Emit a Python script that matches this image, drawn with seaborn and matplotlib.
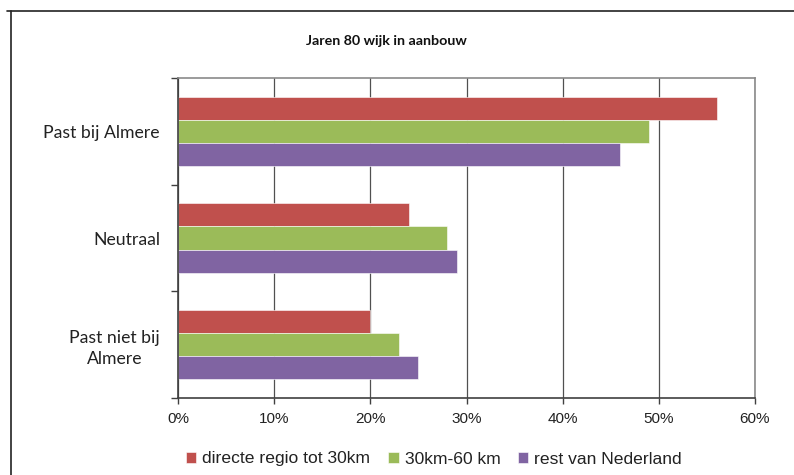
import matplotlib
matplotlib.use("Agg")
import matplotlib.pyplot as plt
from matplotlib.lines import Line2D
from matplotlib.ticker import FixedLocator, PercentFormatter
import pandas as pd
import seaborn as sns

# Survey answers per distance group (percent)
categories = ["Past bij Almere", "Neutraal", "Past niet bij\nAlmere"]
series = ["directe regio tot 30km", "30km-60 km", "rest van Nederland"]
regio_30 = [56, 24, 20]
km_30_60 = [49, 28, 23]
rest_nl = [46, 29, 25]
colors = ["#C0504D", "#9BBB59", "#8064A2"]
title = "Jaren 80 wijk in aanbouw"

rows = []
for s, vals in zip(series, [regio_30, km_30_60, rest_nl]):
    for c, v in zip(categories, vals):
        rows.append({"categorie": c, "reeks": s, "waarde": v})
df = pd.DataFrame(rows)

sns.set_theme(style="white")
plt.rcParams["font.family"] = ["Liberation Sans", "DejaVu Sans"]

fig = plt.figure(figsize=(7.94, 4.75), dpi=100)
ax = fig.add_axes([178 / 794, 1 - 398 / 475, (755 - 178) / 794, (398 - 78) / 475])

sns.barplot(data=df, y="categorie", x="waarde", hue="reeks", order=categories,
            hue_order=series, palette=colors, orient="h", width=0.65,
            saturation=1, edgecolor="white", linewidth=0.4, ax=ax)

ax.set_xlim(0, 60)
ax.set_ylim(2.5, -0.5)
ax.set_xticks(range(0, 61, 10))
ax.xaxis.set_major_formatter(PercentFormatter(decimals=0))
ax.grid(axis="x", color="#505050", linewidth=0.9)
ax.grid(axis="y", visible=False)
ax.set_axisbelow(True)
ax.set_xlabel("")
ax.set_ylabel("")

for side in ["top", "right"]:
    ax.spines[side].set_color("#8a8a8a")
    ax.spines[side].set_linewidth(1.2)
for side in ["left", "bottom"]:
    ax.spines[side].set_color("#404040")
    ax.spines[side].set_linewidth(1.2)

ax.tick_params(axis="x", which="major", bottom=True, length=4, width=1,
               color="#404040", labelsize=11, pad=6, labelcolor="#222222")
ax.tick_params(axis="y", which="major", left=False, length=0, pad=13,
               labelsize=12.7, labelcolor="#222222")
ax.yaxis.set_minor_locator(FixedLocator([-0.5, 0.5, 1.5, 2.5]))
ax.tick_params(axis="y", which="minor", left=True, length=5, width=1,
               color="#404040")
for lbl in ax.get_yticklabels():
    lbl.set_fontfamily(["Lato", "DejaVu Sans"])
    lbl.set_multialignment("center")
    lbl.set_linespacing(1.4)

leg = ax.legend(loc="center", bbox_to_anchor=(434 / 794, 1 - 459 / 475),
                bbox_transform=fig.transFigure, ncol=3, frameon=False,
                fontsize=12.6, handlelength=0.6, handleheight=0.6,
                handletextpad=0.35, columnspacing=1.0)
for t in leg.get_texts():
    t.set_color("#222222")

fig.text(386 / 794, 1 - 41 / 475, title, ha="center", va="center",
         fontsize=10.3, fontweight="bold", family=["Lato", "DejaVu Sans"],
         color="#111111")

# Frame lines along the top and left of the chart area
fig.add_artist(Line2D([7 / 794, 1.0], [1 - 11 / 475] * 2,
                      transform=fig.transFigure, color="#222222", linewidth=1.2))
fig.add_artist(Line2D([11 / 794] * 2, [0.0, 1 - 11 / 475],
                      transform=fig.transFigure, color="#222222", linewidth=1.2))

fig.savefig("out.png", dpi=100, facecolor="white")
